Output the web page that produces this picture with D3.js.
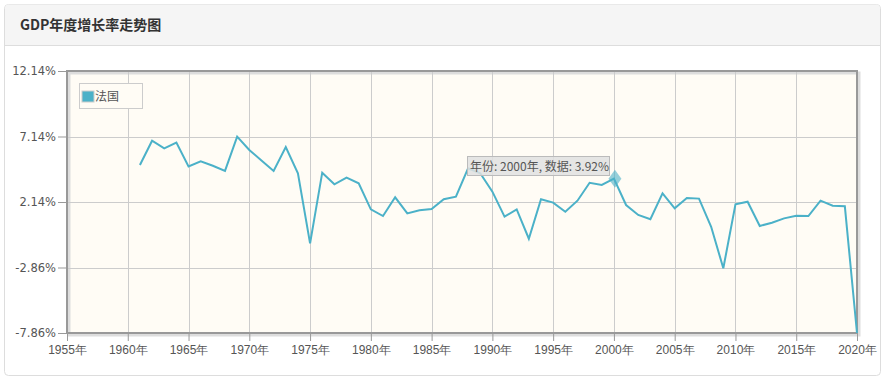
<!DOCTYPE html>
<html><head><meta charset="utf-8">
<script src="https://cdn.jsdelivr.net/npm/d3@7"></script>
<style>
body{margin:0;background:#fff;font-family:"Noto Sans CJK SC","Noto Sans",sans-serif;}
svg{display:block}
</style></head>
<body><svg id="c" width="886" height="381"></svg>
<script>
const years = d3.range(1961, 2021);
const values = [4.96,6.82,6.24,6.67,4.86,5.25,4.91,4.51,7.13,6.11,5.31,4.51,6.34,4.33,-1.02,4.38,3.49,4.0,3.57,1.58,1.07,2.50,1.27,1.51,1.61,2.35,2.55,4.71,4.33,2.93,1.02,1.58,-0.66,2.35,2.09,1.40,2.24,3.61,3.44,3.92,1.91,1.15,0.82,2.80,1.66,2.45,2.40,0.25,-2.92,1.96,2.16,0.31,0.56,0.89,1.09,1.07,2.24,1.86,1.81,-7.86];
const yTicks = [-7.86,-2.86,2.14,7.14,12.14];
const xTicks = d3.range(1955, 2021, 5);
const seriesName = "法国";
const title = "GDP年度增长率走势图";
const hoverYear = 2000;

const svg = d3.select("#c");
const color = "#4bb1c8";
// card
svg.append("rect").attr("x",4.5).attr("y",4.5).attr("width",876).attr("height",371).attr("rx",4)
  .attr("fill","#fff").attr("stroke","#ddd");
svg.append("path").attr("d","M5,45 V8.5 a4,4 0 0 1 4,-4 H876 a4,4 0 0 1 4,4 V45 Z").attr("fill","#f5f5f5");
svg.append("line").attr("x1",5).attr("x2",880).attr("y1",45.5).attr("y2",45.5).attr("stroke","#ddd");
svg.append("text").attr("x",20).attr("y",30).text(title)
  .attr("font-size",14).attr("font-weight","bold").attr("fill","#333");

const L=67,R=857,T=71,B=333;
const x = d3.scaleLinear().domain([1955,2020]).range([L,R]);
const y = d3.scaleLinear().domain([-7.86,12.14]).range([B,T]);

// plot background
svg.append("rect").attr("x",L).attr("y",T).attr("width",R-L).attr("height",B-T).attr("fill","#fffcf5");
// shadow
svg.append("rect").attr("x",L+2).attr("y",T+2).attr("width",R-L).attr("height",B-T)
  .attr("fill","none").attr("stroke","#ddd").attr("stroke-width",3);
// grid
const g = svg.append("g");
g.selectAll(".vg").data(xTicks.slice(1)).join("line")
  .attr("x1",d=>Math.round(x(d))+0.5).attr("x2",d=>Math.round(x(d))+0.5).attr("y1",T).attr("y2",B)
  .attr("stroke","#ccc");
g.selectAll(".hg").data(yTicks.slice(1,-1)).join("line")
  .attr("y1",d=>Math.round(y(d))+0.5).attr("y2",d=>Math.round(y(d))+0.5).attr("x1",L).attr("x2",R)
  .attr("stroke","#ccc");
// border
svg.append("rect").attr("x",L).attr("y",T).attr("width",R-L).attr("height",B-T)
  .attr("fill","none").attr("stroke","#999").attr("stroke-width",2);

// axes
const yAxis = d3.axisLeft(y).tickValues(yTicks).tickFormat(d=>d.toFixed(2)+"%").tickSize(8).tickPadding(2);
const ya = svg.append("g").attr("transform",`translate(${L-1},0)`).call(yAxis);
ya.select(".domain").remove();
ya.selectAll("line").attr("stroke","#999");
ya.selectAll("text").attr("fill","#555").attr("font-family","'DejaVu Sans',sans-serif").attr("font-size",11.5);

const xAxis = d3.axisBottom(x).tickValues(xTicks).tickFormat(d=>d+"年").tickSize(7).tickPadding(4);
const xa = svg.append("g").attr("transform",`translate(0,${B+1})`).call(xAxis);
xa.select(".domain").remove();
xa.selectAll("line").attr("stroke","#999");
xa.selectAll("text").attr("fill","#555").attr("font-size",12);

// line
const data = years.map((yr,i)=>({yr, v:values[i]}));
svg.append("path").datum(data)
  .attr("d", d3.line().x(d=>x(d.yr)).y(d=>y(d.v)))
  .attr("fill","none").attr("stroke",color).attr("stroke-width",2).attr("stroke-linejoin","miter");

// legend
svg.append("rect").attr("x",79.5).attr("y",83.5).attr("width",63).attr("height",25).attr("fill","#fffcf5").attr("stroke","#ccc");
svg.append("rect").attr("x",82).attr("y",91).attr("width",12).attr("height",11).attr("fill",color).attr("stroke","#ccc");
svg.append("text").attr("x",95).attr("y",101).text(seriesName).attr("font-size",12).attr("fill","#555");

// hover marker & tooltip
const hp = data.find(d=>d.yr===hoverYear);
const hx = x(hp.yr), hy = y(hp.v);
svg.append("path")
  .attr("d",`M${hx+1},${hy-9} L${hx+7.5},${hy} L${hx+1},${hy+9} L${hx-5.5},${hy} Z`)
  .attr("fill",color).attr("opacity",0.6);
const tipText = `年份: ${hp.yr}年, 数据: ${hp.v.toFixed(2)}%`;
svg.append("rect").attr("x",467.5).attr("y",156.5).attr("width",142).attr("height",19)
  .attr("fill","#e0e0e0").attr("fill-opacity",0.85).attr("stroke","#bbb");
svg.append("text").attr("x",470).attr("y",171).text(tipText).attr("font-size",12).attr("fill","#555");
</script></body></html>
